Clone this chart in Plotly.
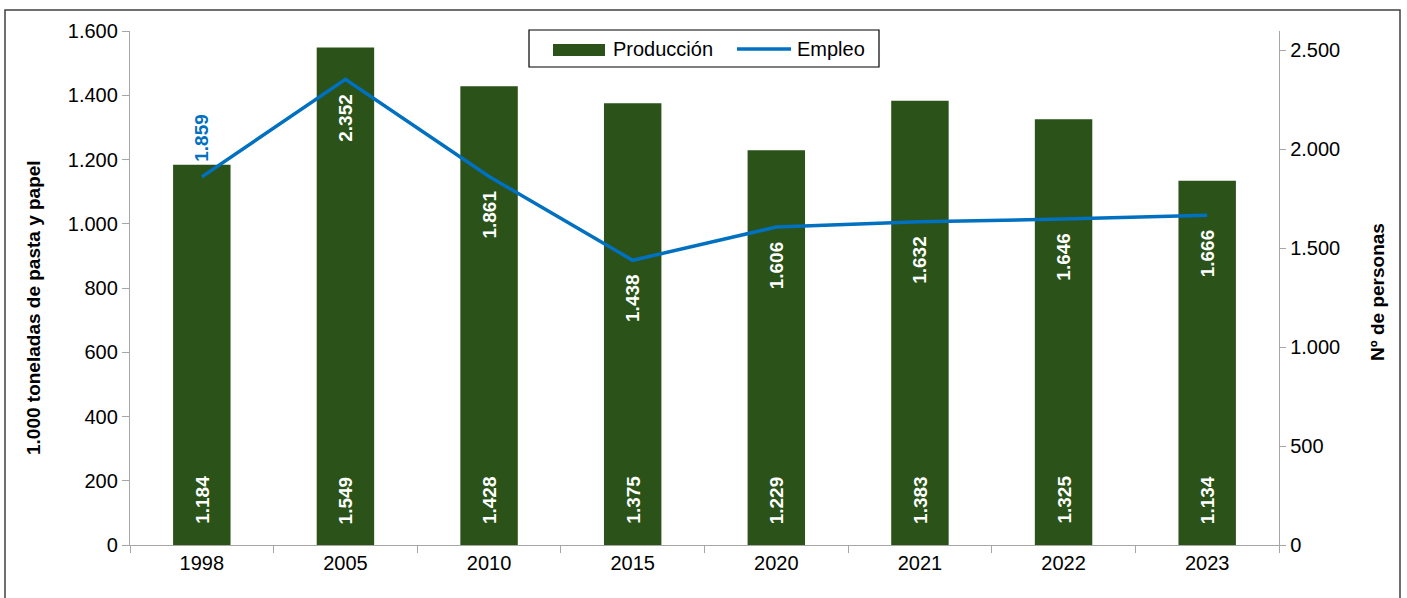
import plotly.graph_objects as go

# Series
years = ["1998", "2005", "2010", "2015", "2020", "2021", "2022", "2023"]
produccion = [1184, 1549, 1428, 1375, 1229, 1383, 1325, 1134]   # 1.000 t pasta y papel
empleo = [1859, 2352, 1861, 1438, 1606, 1632, 1646, 1666]       # nº de personas

left_ticks = [0, 200, 400, 600, 800, 1000, 1200, 1400, 1600]
right_ticks = [0, 500, 1000, 1500, 2000, 2500]

GREEN = "#2A5219"
BLUE = "#0070C0"
AXIS = "#A6A6A6"
FONT = "Liberation Sans, Arial, sans-serif"

W, H = 1407, 598
ML, MR, MT, MB = 130, 128, 31, 53
PW, PH = W - ML - MR, H - MT - MB


def px(x):
    return (x - ML) / PW


def py(y):
    return (H - MB - y) / PH


def fmt(v):
    return f"{v:,}".replace(",", ".")


fig = go.Figure()
fig.add_trace(go.Bar(
    x=years, y=produccion, name="Producción",
    marker=dict(color=GREEN, line=dict(width=0)),
    yaxis="y", hoverinfo="x+y",
))
fig.add_trace(go.Scatter(
    x=years, y=empleo, name="Empleo", mode="lines",
    line=dict(color=BLUE, width=3.5),
    yaxis="y2", hoverinfo="x+y",
))

annotations = []
# production values at the base of each bar (x given as category index)
for i, v in enumerate(produccion):
    annotations.append(dict(
        x=i, y=0, xref="x", yref="y", text=fmt(v), showarrow=False,
        textangle=-90, yanchor="bottom", xanchor="center", yshift=19,
        font=dict(family=FONT, size=19, color="white", weight="bold"),
    ))
# employment values next to each point of the line
for i, v in enumerate(empleo):
    above = i == 0
    annotations.append(dict(
        x=i, y=v, xref="x", yref="y2", text=fmt(v), showarrow=False,
        textangle=-90, xanchor="center",
        yanchor="bottom" if above else "top",
        yshift=13 if above else -12,
        font=dict(family=FONT, size=19, color=BLUE if above else "white", weight="bold"),
    ))

# axis titles
annotations.append(dict(
    x=px(33), y=py(308), xref="paper", yref="paper", showarrow=False,
    xanchor="center", yanchor="middle",
    text="1.000 toneladas de pasta y papel", textangle=-90,
    font=dict(family=FONT, size=19, color="black", weight="bold"),
))
annotations.append(dict(
    x=px(1377), y=py(292), xref="paper", yref="paper", showarrow=False,
    xanchor="center", yanchor="middle",
    text="Nº de personas", textangle=-90,
    font=dict(family=FONT, size=19, color="black", weight="bold"),
))

# legend
annotations.append(dict(
    x=px(611), y=py(49), xref="paper", yref="paper", showarrow=False,
    text="Producción", xanchor="left", yanchor="middle",
    font=dict(family=FONT, size=20, color="black"),
))
annotations.append(dict(
    x=px(795), y=py(49), xref="paper", yref="paper", showarrow=False,
    text="Empleo", xanchor="left", yanchor="middle",
    font=dict(family=FONT, size=20, color="black"),
))

shapes = [
    # outer frame
    dict(type="path", xref="paper", yref="paper",
         path=f"M {px(5)},{py(620)} L {px(5)},{py(10)} L {px(1400)},{py(10)} L {px(1400)},{py(620)}",
         line=dict(color="#404040", width=1.5)),
    # legend box
    dict(type="rect", xref="paper", yref="paper",
         x0=px(529), x1=px(879), y0=py(67), y1=py(30),
         line=dict(color="black", width=1.2), fillcolor="white", layer="below"),
    dict(type="rect", xref="paper", yref="paper",
         x0=px(553), x1=px(605), y0=py(56), y1=py(44),
         line=dict(width=0), fillcolor=GREEN),
    dict(type="line", xref="paper", yref="paper",
         x0=px(737), x1=px(791), y0=py(49), y1=py(49),
         line=dict(color=BLUE, width=3.5)),
]

fig.update_layout(
    width=W, height=H,
    margin=dict(l=ML, r=MR, t=MT, b=MB, pad=0, autoexpand=False),
    paper_bgcolor="white", plot_bgcolor="white",
    separators=",.",
    showlegend=False,
    bargap=0.6,
    font=dict(family=FONT, size=20, color="black"),
    xaxis=dict(
        type="category", range=[-0.5, len(years) - 0.5], autorange=False,
        showline=True, linecolor=AXIS, linewidth=1.3,
        ticks="outside", tickson="boundaries", ticklen=7, tickcolor=AXIS, tickwidth=1.3,
        showgrid=False, zeroline=False, tickfont=dict(size=20), tickangle=0,
    ),
    yaxis=dict(
        range=[0, 1600], autorange=False, tickvals=left_ticks, tickformat=",d",
        showline=True, linecolor=AXIS, linewidth=1.3,
        ticks="outside", ticklen=7, tickcolor=AXIS, tickwidth=1.3,
        showgrid=False, zeroline=False, tickfont=dict(size=20),
    ),
    yaxis2=dict(
        range=[0, 2596], autorange=False, tickvals=right_ticks, tickformat=",d",
        overlaying="y", side="right",
        showline=True, linecolor=AXIS, linewidth=1.3,
        ticks="outside", ticklen=6, tickcolor=AXIS, tickwidth=1.3,
        showgrid=False, zeroline=False, tickfont=dict(size=20),
    ),
    annotations=annotations,
    shapes=shapes,
)

fig.write_html("out.html")
